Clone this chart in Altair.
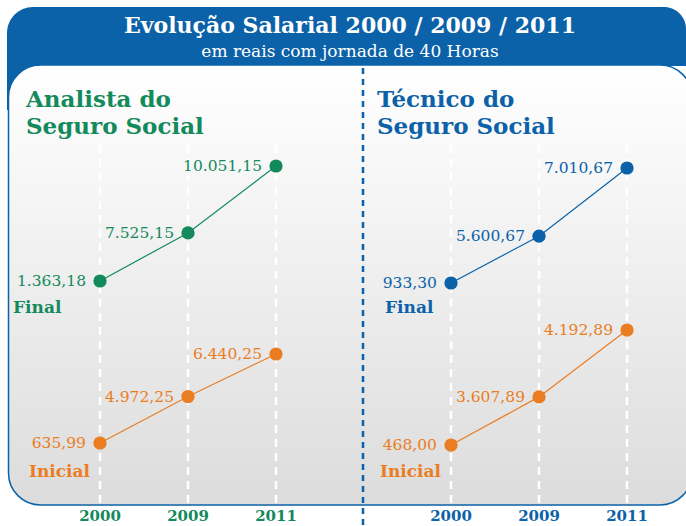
import altair as alt
import pandas as pd

years = ["2000", "2009", "2011"]
analista_final = [1363.18, 7525.15, 10051.15]
analista_inicial = [635.99, 4972.25, 6440.25]
tecnico_final = [933.30, 5600.67, 7010.67]
tecnico_inicial = [468.00, 3607.89, 4192.89]

GREEN = "#138a5b"
BLUE = "#0b62a8"
ORANGE = "#ea7d22"
SERIF = "DejaVu Serif"


def br(v):
    s = f"{v:,.2f}"
    return s.replace(",", "X").replace(".", ",").replace("X", ".")


def frame(vals):
    return pd.DataFrame({"year": years, "value": vals, "label": [br(v) for v in vals]})


one = pd.DataFrame({"a": [0]})


def series(vals, color, xrange, yrange, exponent, grid=False, yearcolor=None):
    df = frame(vals)
    xs = alt.X("year:O", scale=alt.Scale(type="point", domain=years, range=xrange, padding=0), axis=None)
    ys = alt.Y("value:Q", scale=alt.Scale(type="pow", exponent=exponent,
                                          domain=[min(vals), max(vals)], range=yrange, zero=False, nice=False),
               axis=None)
    base = alt.Chart(df).encode(x=xs)
    layers = []
    if grid:
        layers.append(base.mark_rule(color="white", strokeWidth=2.5, strokeDash=[8, 6]).encode(
            y=alt.value(145), y2=alt.value(505)))
        layers.append(base.mark_text(font=SERIF, fontWeight="bold", fontSize=15, color=yearcolor,
                                     baseline="middle").encode(y=alt.value(516), text="year:N"))
    layers.append(base.mark_line(color=color, strokeWidth=1.2).encode(y=ys))
    layers.append(base.mark_point(filled=True, color=color, size=175, opacity=1).encode(y=ys))
    layers.append(base.mark_text(font=SERIF, fontSize=15.5, color=color, align="right",
                                 baseline="middle", dx=-14).encode(y=ys, text="label:N"))
    return alt.layer(*layers)


def rect(**kw):
    return alt.Chart(one).mark_rect(**kw)


def txt(s, x, y, **kw):
    return alt.Chart(one).mark_text(text=s, font=SERIF, **kw).encode(x=alt.value(x), y=alt.value(y))


header = rect(color=BLUE, cornerRadiusTopLeft=26, cornerRadiusTopRight=22).encode(
    x=alt.value(7), x2=alt.value(686), y=alt.value(7), y2=alt.value(66))
corner = rect(color=BLUE).encode(x=alt.value(7), x2=alt.value(60), y=alt.value(60), y2=alt.value(110))
panel = rect(
    fill=alt.Gradient(gradient="linear",
                      stops=[alt.GradientStop(color="#ffffff", offset=0),
                             alt.GradientStop(color="#f5f5f5", offset=0.3),
                             alt.GradientStop(color="#dcdcdc", offset=1)],
                      x1=0, x2=0, y1=0, y2=1),
    stroke=BLUE, strokeWidth=1.5, cornerRadius=32,
).encode(x=alt.value(8.5), x2=alt.value(692), y=alt.value(65), y2=alt.value(505))

divider = alt.Chart(one).mark_rule(color=BLUE, strokeWidth=2.5, strokeDash=[6, 5]).encode(
    x=alt.value(363), y=alt.value(68), y2=alt.value(526))

texts = [
    txt("Evolução Salarial 2000 / 2009 / 2011", 350, 26, fontSize=22, fontWeight="bold",
        color="white", align="center", baseline="middle"),
    txt("em reais com jornada de 40 Horas", 350, 52, fontSize=17, color="white",
        align="center", baseline="middle"),
    txt("Analista do", 26, 107, fontSize=23, fontWeight="bold", color=GREEN, align="left", baseline="alphabetic"),
    txt("Seguro Social", 26, 134, fontSize=23, fontWeight="bold", color=GREEN, align="left", baseline="alphabetic"),
    txt("Técnico do", 377, 107, fontSize=23, fontWeight="bold", color=BLUE, align="left", baseline="alphabetic"),
    txt("Seguro Social", 377, 134, fontSize=23, fontWeight="bold", color=BLUE, align="left", baseline="alphabetic"),
    txt("Final", 13, 308, fontSize=17, fontWeight="bold", color=GREEN, align="left", baseline="middle"),
    txt("Inicial", 29, 472, fontSize=17, fontWeight="bold", color=ORANGE, align="left", baseline="middle"),
    txt("Final", 385, 308, fontSize=17, fontWeight="bold", color=BLUE, align="left", baseline="middle"),
    txt("Inicial", 380, 472, fontSize=17, fontWeight="bold", color=ORANGE, align="left", baseline="middle"),
]

data_layers = alt.layer(
    series(analista_final, GREEN, [100, 276], [281, 166], 3, grid=True, yearcolor=GREEN),
    series(analista_inicial, ORANGE, [100, 276], [443, 354], 2.5),
    series(tecnico_final, BLUE, [451, 627], [283, 168], 4, grid=True, yearcolor=BLUE),
    series(tecnico_inicial, ORANGE, [451, 627], [445, 330], 5.8),
).resolve_scale(x="independent", y="independent")

chart = alt.layer(corner, header, panel, divider, *texts, data_layers).resolve_scale(
    x="independent", y="independent"
).properties(
    width=686, height=526, padding=0, autosize=alt.AutoSizeParams(type="none"), background="white"
).configure_view(stroke=None)

chart.save("out.html", embed_options={"renderer": "svg", "actions": False})
